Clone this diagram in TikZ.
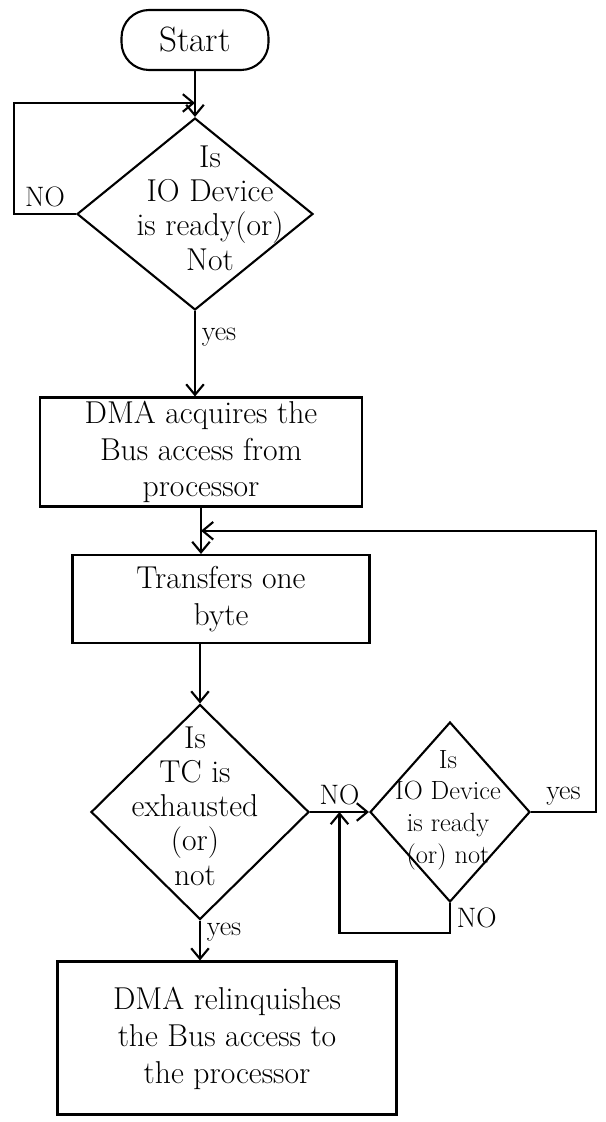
\documentclass[tikz,border=0pt]{standalone}
\usetikzlibrary{shapes.geometric,calc,arrows.meta}

\begin{document}
\begin{tikzpicture}[x=0.02cm,y=-0.02cm]
   \tikzstyle{every node}=[font=\fontsize{18}{21}\selectfont]
   \tikzstyle{terminal}=[draw, very thick, rounded corners=0.55cm, minimum width=2.94cm, minimum height=1.2cm, font=\fontsize{20}{24}\selectfont]
   \tikzstyle{process}=[draw, very thick, align=center, inner sep=1pt]
   \tikzstyle{decision}=[draw, very thick, diamond, inner sep=0pt]
   \tikzstyle{asks}=[align=center, font=\fontsize{18}{19.5}\selectfont]
   \tikzstyle{answer}=[font=\fontsize{16}{19}\selectfont]
   \tikzstyle{flow}=[very thick, -{Straight Barb[length=6pt,width=10pt]}]

\useasboundingbox (0,0) rectangle (605,1122);

\node[terminal] (start) at (195,40) {Start};
\node[decision, minimum width=4.72cm, minimum height=3.84cm] (d1) at (195,214) {};
\node[asks] at ($(d1)+(15,-6)$) {Is\\IO Device\\is ready(or)\\Not};
\node[process, minimum width=6.44cm, minimum height=2.18cm] (acquire) at (201,452) {DMA acquires the\\Bus access from\\processor};
\node[process, minimum width=5.94cm, minimum height=1.76cm] (transfer) at (221,599) {Transfers one\\byte};
\node[decision, minimum width=4.36cm, minimum height=4.3cm] (d3) at (200,812) {};
\node[asks] at ($(d3)+(-5,-6)$) {Is\\TC is\\exhausted\\(or)\\not};
\node[decision, minimum width=3.2cm, minimum height=3.6cm] (d4) at (450,812) {};
\node[asks, font=\fontsize{15}{18}\selectfont] at ($(d4)+(-2,-2)$) {Is\\IO Device\\is ready\\(or) not};
\node[process, minimum width=6.78cm, minimum height=3.06cm] (release) at (227,1038) {DMA relinquishes\\the Bus access to\\the processor};

\coordinate (j1) at ($(d1.north)+(0,-14)$);
\coordinate (j2) at ($(acquire.south)!0.5!(acquire.south |- transfer.north)$);

\draw[flow] (start) -- (d1);
\draw[flow] (d1.west) -- node[answer, above]{NO} ++(-62,0) |- (j1);
\draw[flow] (d1.south) -- node[answer, right, pos=0.3]{yes} (d1.south |- acquire.north);
\draw[flow] (acquire.south) -- (acquire.south |- transfer.north);
\draw[flow] (transfer.south -| d3.north) -- (d3.north);
\draw[flow] (d3.east) -- coordinate[pos=0.5] (j3) node[answer, above, pos=0.5]{NO} (d4.west);
\draw[flow] (d4.south) -- node[answer, right]{NO} ++(0,30) -| (j3);
\draw[flow] (d4.east) -- node[answer, above]{yes} ++(65,0) |- (j2);
\draw[flow] (d3.south) -- node[answer, right, pos=0.3]{yes} (d3.south |- release.north);

\end{tikzpicture}
\end{document}
